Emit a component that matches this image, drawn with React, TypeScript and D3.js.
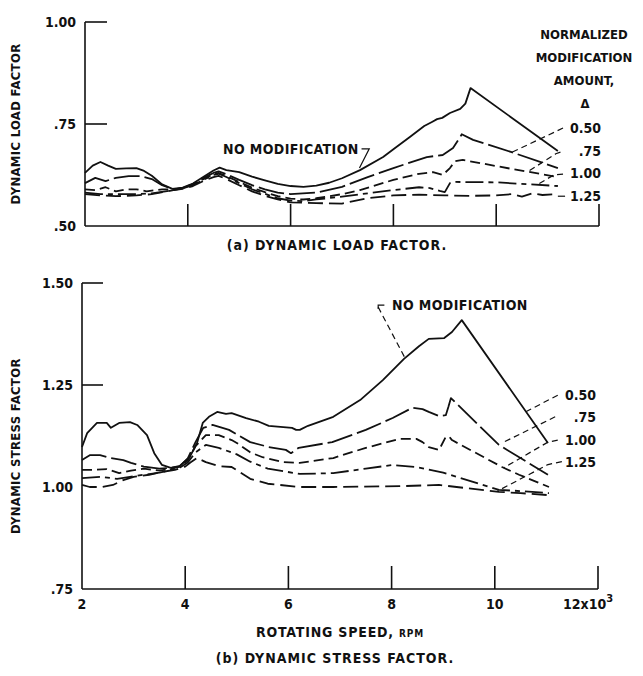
import React from "react";
import * as d3 from "d3";

type P = [number, number];

// ---- axis ticks / labels ----
const speedTicksInner = [4, 6, 8, 10, 12];
const speedTickLabels = ["2", "4", "6", "8", "10"];
const speedTickValues = [2, 4, 6, 8, 10];
const loadTickValues = [0.5, 0.75, 1.0];
const loadTickLabels = [".50", ".75", "1.00"];
const loadTickMarks = [0.75, 1.0];
const stressTickValues = [0.75, 1.0, 1.25, 1.5];
const stressTickLabels = [".75", "1.00", "1.25", "1.50"];
const stressTickMarks = [1.25, 1.5];
const legendLabels = ["0.50", ".75", "1.00", "1.25"];

// ---- (a) dynamic load factor ----
const loadNoMod: P[] = [
  [2.0, 0.63], [2.15, 0.648], [2.3, 0.657], [2.45, 0.648], [2.6, 0.64], [2.8, 0.641], [3.0, 0.642],
  [3.15, 0.635], [3.3, 0.623], [3.5, 0.602], [3.7, 0.591], [3.9, 0.594], [4.1, 0.604], [4.3, 0.62],
  [4.5, 0.636], [4.62, 0.643], [4.75, 0.637], [5.0, 0.632], [5.25, 0.621], [5.5, 0.612], [5.75, 0.603],
  [6.0, 0.598], [6.25, 0.596], [6.5, 0.599], [6.75, 0.606], [7.0, 0.617], [7.35, 0.637], [7.8, 0.669],
  [8.0, 0.688], [8.32, 0.718], [8.6, 0.745], [8.75, 0.755], [8.85, 0.762], [8.95, 0.765], [9.1, 0.777],
  [9.3, 0.787], [9.4, 0.8], [9.5, 0.838], [11.2, 0.684],
];
const load050: P[] = [
  [2.0, 0.605], [2.2, 0.618], [2.4, 0.61], [2.6, 0.618], [2.85, 0.622], [3.1, 0.622], [3.3, 0.615],
  [3.5, 0.6], [3.72, 0.59], [3.9, 0.593], [4.1, 0.603], [4.3, 0.618], [4.5, 0.63], [4.6, 0.634],
  [4.75, 0.627], [5.0, 0.613], [5.25, 0.6], [5.5, 0.59], [5.75, 0.582], [6.0, 0.578], [6.5, 0.582],
  [7.0, 0.596], [7.5, 0.62], [8.0, 0.642], [8.65, 0.669], [8.96, 0.674], [9.16, 0.691], [9.3, 0.718],
  [9.33, 0.725], [9.55, 0.711], [10.3, 0.681], [11.2, 0.642],
];
const load075: P[] = [
  [2.0, 0.59], [2.2, 0.588], [2.4, 0.595], [2.6, 0.585], [2.8, 0.59], [3.0, 0.59], [3.2, 0.585],
  [3.5, 0.59], [3.72, 0.59], [3.9, 0.593], [4.1, 0.602], [4.3, 0.615], [4.5, 0.627], [4.6, 0.63],
  [4.75, 0.622], [5.0, 0.608], [5.25, 0.594], [5.5, 0.583], [5.75, 0.573], [6.0, 0.567], [6.25, 0.565],
  [6.5, 0.568], [7.0, 0.578], [7.35, 0.588], [8.0, 0.613], [8.5, 0.628], [8.77, 0.632], [8.96, 0.625],
  [9.1, 0.642], [9.2, 0.659], [9.35, 0.662], [10.3, 0.64], [11.2, 0.62],
];
const load100: P[] = [
  [2.0, 0.582], [2.3, 0.578], [2.6, 0.578], [3.0, 0.578], [3.3, 0.58], [3.72, 0.588], [3.9, 0.592],
  [4.1, 0.6], [4.3, 0.613], [4.5, 0.625], [4.6, 0.628], [4.75, 0.62], [5.0, 0.605], [5.25, 0.59],
  [5.5, 0.579], [5.75, 0.568], [6.0, 0.562], [6.25, 0.561], [6.5, 0.565], [7.0, 0.572], [7.5, 0.58],
  [8.0, 0.588], [8.5, 0.595], [8.71, 0.593], [8.9, 0.586], [9.0, 0.583], [9.1, 0.605], [9.16, 0.608],
  [10.0, 0.607], [11.2, 0.598],
];
const load125: P[] = [
  [2.0, 0.578], [2.3, 0.575], [2.6, 0.573], [3.0, 0.575], [3.3, 0.578], [3.72, 0.588], [3.9, 0.591],
  [4.1, 0.598], [4.3, 0.61], [4.5, 0.62], [4.6, 0.623], [4.75, 0.615], [5.0, 0.6], [5.25, 0.585],
  [5.5, 0.574], [5.75, 0.565], [6.0, 0.558], [6.5, 0.556], [7.0, 0.555], [7.5, 0.568], [8.0, 0.575],
  [8.5, 0.577], [9.0, 0.575], [9.5, 0.574], [10.0, 0.575], [10.3, 0.578], [10.5, 0.572], [10.7, 0.58],
  [10.9, 0.576], [11.2, 0.578],
];

// ---- (b) dynamic stress factor ----
const stressNoMod: P[] = [
  [2.0, 1.098], [2.1, 1.132], [2.29, 1.157], [2.48, 1.157], [2.56, 1.145], [2.72, 1.157], [2.93, 1.159],
  [3.07, 1.152], [3.26, 1.127], [3.4, 1.083], [3.55, 1.054], [3.72, 1.047], [3.88, 1.05], [4.09, 1.074],
  [4.23, 1.108], [4.34, 1.157], [4.46, 1.172], [4.62, 1.184], [4.79, 1.179], [4.9, 1.181], [5.18, 1.169],
  [5.43, 1.16], [5.62, 1.15], [6.07, 1.145], [6.15, 1.14], [6.22, 1.14], [6.38, 1.15], [6.87, 1.172],
  [7.39, 1.213], [7.83, 1.262], [8.24, 1.314], [8.53, 1.345], [8.72, 1.363], [9.02, 1.365], [9.17, 1.38],
  [9.36, 1.409], [11.03, 1.108],
];
const stress050: P[] = [
  [2.0, 1.066], [2.15, 1.078], [2.35, 1.078], [2.55, 1.071], [2.8, 1.066], [2.95, 1.059], [3.2, 1.05],
  [3.5, 1.045], [3.72, 1.047], [3.9, 1.052], [4.05, 1.07], [4.2, 1.11], [4.35, 1.145], [4.53, 1.152],
  [4.85, 1.14], [5.26, 1.11], [5.62, 1.098], [5.95, 1.091], [6.05, 1.083], [6.2, 1.096], [6.85, 1.11],
  [7.5, 1.14], [8.02, 1.169], [8.4, 1.194], [8.6, 1.191], [8.72, 1.184], [8.92, 1.174], [9.05, 1.176],
  [9.1, 1.196], [9.15, 1.218], [10.08, 1.103], [11.03, 1.03],
];
const stress075: P[] = [
  [2.0, 1.042], [2.2, 1.042], [2.48, 1.044], [2.72, 1.034], [2.95, 1.04], [3.2, 1.045], [3.5, 1.04],
  [3.72, 1.045], [3.9, 1.05], [4.05, 1.065], [4.2, 1.1], [4.4, 1.127], [4.65, 1.127], [4.9, 1.115],
  [5.0, 1.108], [5.26, 1.085], [5.5, 1.073], [5.9, 1.061], [6.22, 1.059], [6.87, 1.071], [7.5, 1.096],
  [8.16, 1.118], [8.48, 1.118], [8.6, 1.11], [8.72, 1.098], [8.92, 1.091], [9.05, 1.123], [9.12, 1.123],
  [9.17, 1.115], [10.14, 1.049], [10.47, 1.03], [11.05, 1.0],
];
const stress100: P[] = [
  [2.0, 1.022], [2.35, 1.025], [2.68, 1.02], [2.93, 1.025], [3.2, 1.03], [3.5, 1.035], [3.72, 1.042],
  [3.9, 1.048], [4.05, 1.06], [4.2, 1.085], [4.4, 1.103], [4.65, 1.096], [5.0, 1.08], [5.26, 1.062],
  [5.6, 1.045], [6.22, 1.032], [6.87, 1.034], [7.5, 1.045], [8.02, 1.054], [8.48, 1.049], [9.0, 1.035],
  [10.08, 0.993], [10.5, 0.99], [11.05, 0.985],
];
const stress125: P[] = [
  [2.0, 1.005], [2.15, 1.0], [2.4, 1.0], [2.6, 1.005], [2.8, 1.017], [3.0, 1.025], [3.3, 1.03],
  [3.6, 1.038], [3.8, 1.042], [4.0, 1.05], [4.1, 1.06], [4.23, 1.071], [4.4, 1.061], [4.65, 1.051],
  [4.9, 1.049], [5.26, 1.02], [5.6, 1.008], [6.22, 1.0], [6.87, 1.0], [8.16, 1.002], [8.92, 1.005],
  [10.08, 0.988], [10.5, 0.985], [11.05, 0.98],
];

// leader lines (data units)
const loadLeaders: P[][] = [
  [[11.3, 0.74], [10.31, 0.681]],
  [[11.25, 0.681], [11.16, 0.677], [10.6, 0.632]],
  [[11.3, 0.627], [11.12, 0.625], [10.78, 0.6]],
  [[11.34, 0.573], [11.2, 0.573]],
];
const loadNoModLeader: P[] = [[7.38, 0.689], [7.53, 0.689], [7.34, 0.642]];
const stressLeaders: P[][] = [
  [[11.22, 1.225], [10.55, 1.181]],
  [[11.17, 1.172], [10.14, 1.108]],
  [[11.22, 1.115], [11.03, 1.11], [10.17, 1.047]],
  [[11.3, 1.062], [11.03, 1.055], [10.05, 0.99]],
];
const stressNoModLeader: P[] = [[7.74, 1.441], [8.26, 1.316]];

const dashes = [null, "26,5", "10,5", "18,5,5,5", "15,6"];
const FONT = "'DejaVu Sans Condensed', 'DejaVu Sans', sans-serif";

export default function App() {
  const W = 643, H = 676;
  const xA = d3.scaleLinear().domain([2, 12]).range([85, 599]);
  const yA = d3.scaleLinear().domain([0.5, 1.0]).range([226, 22]);
  const xB = d3.scaleLinear().domain([2, 12]).range([82, 598]);
  const yB = d3.scaleLinear().domain([0.75, 1.5]).range([589, 283]);

  const lineA = d3.line<P>().x((d) => xA(d[0])).y((d) => yA(d[1]));
  const lineB = d3.line<P>().x((d) => xB(d[0])).y((d) => yB(d[1]));

  const loadSeries = [loadNoMod, load050, load075, load100, load125];
  const stressSeries = [stressNoMod, stress050, stress075, stress100, stress125];

  const txt = { fontFamily: FONT, fontWeight: 700, fill: "#111" } as const;

  return (
    <svg width={W} height={H} style={{ position: "absolute", left: 0, top: 0, background: "#fff" }}>
      <rect width={W} height={H} fill="#fff" />
      {/* ===== Panel (a) ===== */}
      <g stroke="#111" strokeWidth={1.6} fill="none">
        <line x1={xA(2)} y1={yA(1.0)} x2={xA(2)} y2={yA(0.5)} />
        <line x1={xA(2)} y1={yA(0.5)} x2={xA(12)} y2={yA(0.5)} />
        {loadTickMarks.map((t) => (
          <line key={t} x1={xA(2)} x2={xA(2) + 22} y1={yA(t)} y2={yA(t)} />
        ))}
        {speedTicksInner.map((t) => (
          <line key={t} x1={xA(t)} x2={xA(t)} y1={yA(0.5)} y2={yA(0.5) - 22} />
        ))}
      </g>
      {loadTickValues.map((t, i) => (
        <text key={t} x={76} y={yA(t)} dy="0.36em" textAnchor="end" fontSize={14} {...txt}>
          {loadTickLabels[i]}
        </text>
      ))}
      <text transform={`translate(20,${yA(0.75)}) rotate(-90)`} textAnchor="middle" fontSize={13} letterSpacing={0.3} {...txt}>
        DYNAMIC LOAD FACTOR
      </text>
      <text x={337} y={250} textAnchor="middle" fontSize={14} letterSpacing={1} {...txt}>
        (a) DYNAMIC LOAD FACTOR.
      </text>
      <g fill="none" stroke="#111" strokeWidth={1.8} strokeLinejoin="round">
        {loadSeries.map((s, i) => (
          <path key={i} d={lineA(s) || ""} strokeDasharray={dashes[i] || undefined} />
        ))}
      </g>
      <g fill="none" stroke="#111" strokeWidth={1.2}>
        {loadLeaders.map((l, i) => (
          <path key={i} d={lineA(l) || ""} strokeDasharray={i === 3 ? undefined : "6,4"} />
        ))}
        <path d={lineA(loadNoModLeader) || ""} />
      </g>
      <text x={223} y={yA(0.689)} dy="0.36em" fontSize={14} letterSpacing={0.4} {...txt}>NO MODIFICATION</text>
      {["NORMALIZED", "MODIFICATION", "AMOUNT,"].map((t, i) => (
        <text key={t} x={584} y={39 + i * 23} textAnchor="middle" fontSize={13} {...txt}>{t}</text>
      ))}
      <text x={585} y={108} textAnchor="middle" fontSize={13} {...txt}>Δ</text>
      {legendLabels.map((t, i) => (
        <text key={t} x={601} y={128 + i * 22.5} dy="0.36em" textAnchor="end" fontSize={14} {...txt}>{t}</text>
      ))}

      {/* ===== Panel (b) ===== */}
      <g stroke="#111" strokeWidth={1.6} fill="none">
        <line x1={xB(2)} y1={yB(1.5)} x2={xB(2)} y2={yB(0.75)} />
        <line x1={xB(2)} y1={yB(0.75)} x2={xB(12)} y2={yB(0.75)} />
        {stressTickMarks.map((t) => (
          <line key={t} x1={xB(2)} x2={xB(2) + 21} y1={yB(t)} y2={yB(t)} />
        ))}
        {speedTicksInner.map((t) => (
          <line key={t} x1={xB(t)} x2={xB(t)} y1={yB(0.75)} y2={yB(0.75) - 23} />
        ))}
      </g>
      {stressTickValues.map((t, i) => (
        <text key={t} x={73} y={yB(t)} dy="0.36em" textAnchor="end" fontSize={14} {...txt}>
          {stressTickLabels[i]}
        </text>
      ))}
      {speedTickValues.map((t, i) => (
        <text key={t} x={xB(t)} y={609} textAnchor="middle" fontSize={14} {...txt}>
          {speedTickLabels[i]}
        </text>
      ))}
      <text x={563} y={609} fontSize={14} {...txt}>
        12x10<tspan dy={-7} fontSize={11}>3</tspan>
      </text>
      <text x={340} y={637} textAnchor="middle" fontSize={14} letterSpacing={0.8} {...txt}>
        ROTATING SPEED, <tspan fontSize={10}>RPM</tspan>
      </text>
      <text x={335} y={663} textAnchor="middle" fontSize={14} letterSpacing={1} {...txt}>
        (b) DYNAMIC STRESS FACTOR.
      </text>
      <text transform={`translate(20,${yB(1.1)}) rotate(-90)`} textAnchor="middle" fontSize={13} letterSpacing={0.3} {...txt}>
        DYNAMIC STRESS FACTOR
      </text>
      <g fill="none" stroke="#111" strokeWidth={1.8} strokeLinejoin="round">
        {stressSeries.map((s, i) => (
          <path key={i} d={lineB(s) || ""} strokeDasharray={dashes[i] || undefined} />
        ))}
      </g>
      <g fill="none" stroke="#111" strokeWidth={1.2}>
        {stressLeaders.map((l, i) => (
          <path key={i} d={lineB(l) || ""} strokeDasharray="6,4" />
        ))}
        <path d={lineB(stressNoModLeader) || ""} strokeDasharray="6,4" />
        <path d={lineB([[7.86, 1.446], [7.74, 1.446], [7.74, 1.436]]) || ""} />
      </g>
      <text x={392} y={yB(1.446)} dy="0.36em" fontSize={14} letterSpacing={0.4} {...txt}>NO MODIFICATION</text>
      {legendLabels.map((t, i) => (
        <text key={t} x={596} y={395 + i * 22.3} dy="0.36em" textAnchor="end" fontSize={14} {...txt}>{t}</text>
      ))}
    </svg>
  );
}
